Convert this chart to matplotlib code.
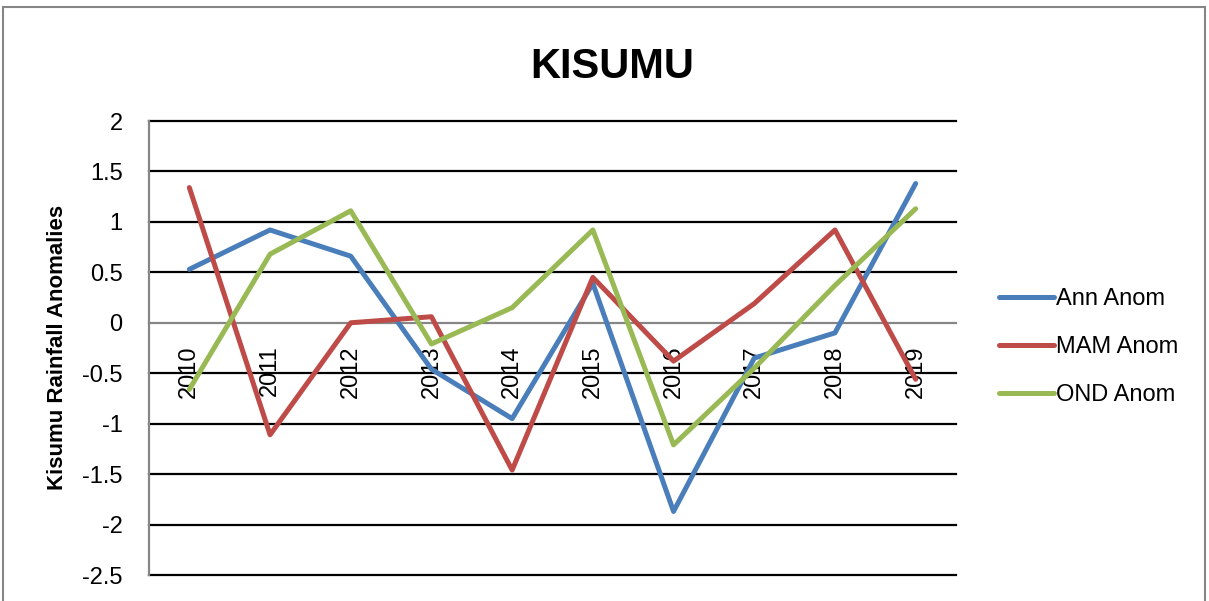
import numpy as np
import matplotlib.pyplot as plt
from matplotlib.patches import Rectangle

plt.rcParams['font.family'] = ['Liberation Sans', 'DejaVu Sans']

# dados
anos = ['2010', '2011', '2012', '2013', '2014', '2015', '2016', '2017', '2018', '2019']
ann_anom = [0.53, 0.92, 0.66, -0.46, -0.95, 0.39, -1.87, -0.35, -0.10, 1.38]
mam_anom = [1.34, -1.11, 0.00, 0.06, -1.46, 0.45, -0.38, 0.19, 0.92, -0.56]
ond_anom = [-0.66, 0.68, 1.11, -0.21, 0.15, 0.92, -1.21, -0.45, 0.37, 1.13]
y_ticks = [-2.5, -2, -1.5, -1, -0.5, 0, 0.5, 1, 1.5, 2]

fig = plt.figure(figsize=(12.09, 6.01), dpi=100)
fig.patch.set_facecolor('white')

# moldura externa do gráfico (estilo Excel)
fig.patches.append(Rectangle((3/1209, -0.1), 1202/1209, 1.1 - 7/601, transform=fig.transFigure,
                             fill=False, edgecolor='#868686', linewidth=1.5))

ax = fig.add_axes([149/1209, 26/601, 807/1209, 454/601])
x = np.arange(len(anos))

# eixo das categorias cruza em y = 0 (definir antes dos rótulos)
ax.spines['top'].set_visible(False)
ax.spines['right'].set_visible(False)
ax.spines['left'].set_color('#868686')
ax.spines['left'].set_linewidth(1.6)
ax.spines['bottom'].set_position(('data', 0))
ax.spines['bottom'].set_color('#868686')
ax.spines['bottom'].set_linewidth(1.6)
ax.spines['bottom'].set_zorder(2)

ax.plot(x, ann_anom, color='#4A7EBB', linewidth=3.6, label='Ann Anom', zorder=4, solid_capstyle='round')
ax.plot(x, mam_anom, color='#BE4B48', linewidth=3.6, label='MAM Anom', zorder=4, solid_capstyle='round')
ax.plot(x, ond_anom, color='#98B954', linewidth=3.6, label='OND Anom', zorder=4, solid_capstyle='round')

ax.set_xlim(-0.5, len(anos) - 0.5)
ax.set_ylim(-2.5, 2)
ax.set_yticks(y_ticks)
ax.set_yticklabels(['%g' % v for v in y_ticks])
ax.set_xticks(x)
ax.set_xticklabels(anos)

# linhas de grade pretas, exceto no zero (eixo cinza)
for v in y_ticks:
    if v != 0:
        ax.axhline(v, color='black', linewidth=1.6, zorder=1, clip_on=False)

ax.tick_params(axis='x', length=0, pad=16, labelsize=17, labelrotation=90)
ax.tick_params(axis='y', length=0, pad=19, labelsize=17)

fig.text(0.506, 1 - 78/601, 'KISUMU', fontsize=30, fontweight='bold', ha='center', va='baseline')
fig.text(58/1209, 1 - 347/601, 'Kisumu Rainfall Anomalies', fontsize=16, fontweight='bold',
         rotation=90, ha='center', va='center')

fig.legend(loc='center left', bbox_to_anchor=(978/1209, 1 - 347/601), frameon=False,
           fontsize=17, handlelength=2.3, handletextpad=0.1, labelspacing=1.1)

fig.savefig('out.png', dpi=100)
